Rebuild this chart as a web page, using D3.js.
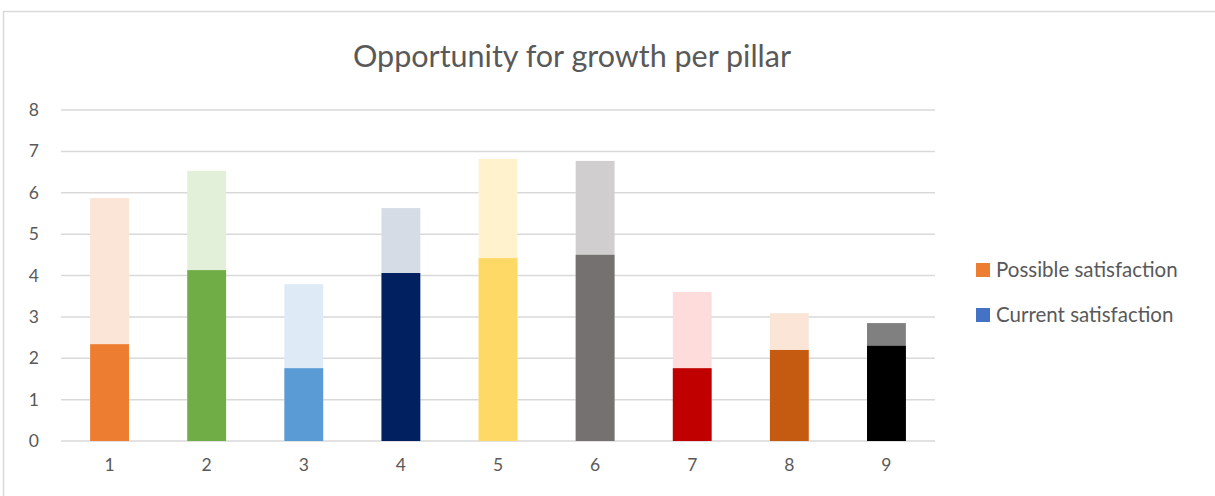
<!DOCTYPE html>
<html>
<head>
<meta charset="utf-8">
<script src="https://cdn.jsdelivr.net/npm/d3@7"></script>
<style>
  html, body { margin: 0; padding: 0; background: #fff; }
  svg { display: block; font-family: Lato, "Open Sans", sans-serif; }
</style>
</head>
<body>
<svg id="chart" width="1215" height="496"></svg>
<script>
// Pillars 1–9
const pillars = ["1", "2", "3", "4", "5", "6", "7", "8", "9"];
// Achievable score per pillar (full bar height)
const possible = [5.87, 6.53, 3.79, 5.63, 6.82, 6.77, 3.60, 3.09, 2.85];
// Score reached today (front bar)
const current = [2.34, 4.13, 1.76, 4.06, 4.42, 4.50, 1.76, 2.20, 2.30];
// Per-pillar colours: light tint for possible, strong shade for current
const possibleColors = ["#FBE5D6", "#E2F0D9", "#DEEBF7", "#D6DCE5", "#FFF2CC", "#D0CECE", "#FFDCDC", "#FBE5D6", "#808080"];
const currentColors  = ["#ED7D31", "#70AD47", "#5B9BD5", "#002060", "#FFD966", "#767171", "#C00000", "#C55A11", "#000000"];
const yTicks = [0, 1, 2, 3, 4, 5, 6, 7, 8];
const legendItems = [
  { label: "Possible satisfaction", color: "#ED7D31" },
  { label: "Current satisfaction", color: "#4472C4" }
];

const svg = d3.select("#chart");
const textColor = "#595959";
const gridColor = "#D9D9D9";

// Chart area frame
svg.append("rect")
  .attr("x", 3.5).attr("y", 11.5)
  .attr("width", 1240).attr("height", 500)
  .attr("fill", "#fff")
  .attr("stroke", gridColor).attr("stroke-width", 1.5);

const plot = { left: 61, right: 935, top: 110, bottom: 441 };

const x = d3.scaleBand()
  .domain(pillars)
  .range([plot.left, plot.right])
  .paddingInner(0.6).paddingOuter(0.3);

const y = d3.scaleLinear().domain([0, 8]).range([plot.bottom, plot.top]);

// Title
svg.append("text")
  .attr("x", 572).attr("y", 67)
  .attr("text-anchor", "middle")
  .attr("fill", textColor)
  .attr("font-size", 30.5)
  .text("Opportunity for growth per pillar");

// Gridlines
svg.append("g")
  .selectAll("line")
  .data(yTicks)
  .join("line")
  .attr("x1", plot.left).attr("x2", plot.right)
  .attr("y1", d => y(d)).attr("y2", d => y(d))
  .attr("stroke", gridColor).attr("stroke-width", 1.5);

// Y axis labels
const yAxis = svg.append("g")
  .attr("transform", `translate(${plot.left},0)`)
  .call(d3.axisLeft(y).tickValues(yTicks).tickSize(0).tickPadding(22).tickFormat(d3.format("d")));
yAxis.select(".domain").remove();
yAxis.selectAll("text")
  .attr("fill", textColor)
  .attr("font-size", 17.5)
  .attr("font-family", "Lato, sans-serif");

// X axis labels
const xAxis = svg.append("g")
  .attr("transform", `translate(0,${plot.bottom})`)
  .call(d3.axisBottom(x).tickSize(0).tickPadding(18));
xAxis.select(".domain").remove();
xAxis.selectAll("text")
  .attr("fill", textColor)
  .attr("font-size", 17.5)
  .attr("font-family", "Lato, sans-serif");

// Possible satisfaction bars (behind)
svg.append("g")
  .selectAll("rect")
  .data(pillars)
  .join("rect")
  .attr("x", d => x(d))
  .attr("width", x.bandwidth())
  .attr("y", (d, i) => y(possible[i]))
  .attr("height", (d, i) => y(0) - y(possible[i]))
  .attr("fill", (d, i) => possibleColors[i]);

// Current satisfaction bars (front)
svg.append("g")
  .selectAll("rect")
  .data(pillars)
  .join("rect")
  .attr("x", d => x(d))
  .attr("width", x.bandwidth())
  .attr("y", (d, i) => y(current[i]))
  .attr("height", (d, i) => y(0) - y(current[i]))
  .attr("fill", (d, i) => currentColors[i]);

// Legend
const legend = svg.append("g")
  .selectAll("g")
  .data(legendItems)
  .join("g")
  .attr("transform", (d, i) => `translate(976,${263 + i * 45})`);
legend.append("rect")
  .attr("width", 14).attr("height", 14)
  .attr("fill", d => d.color);
legend.append("text")
  .attr("x", 20).attr("y", 14)
  .attr("fill", textColor)
  .attr("font-size", 20.5)
  .text(d => d.label);
</script>
</body>
</html>
